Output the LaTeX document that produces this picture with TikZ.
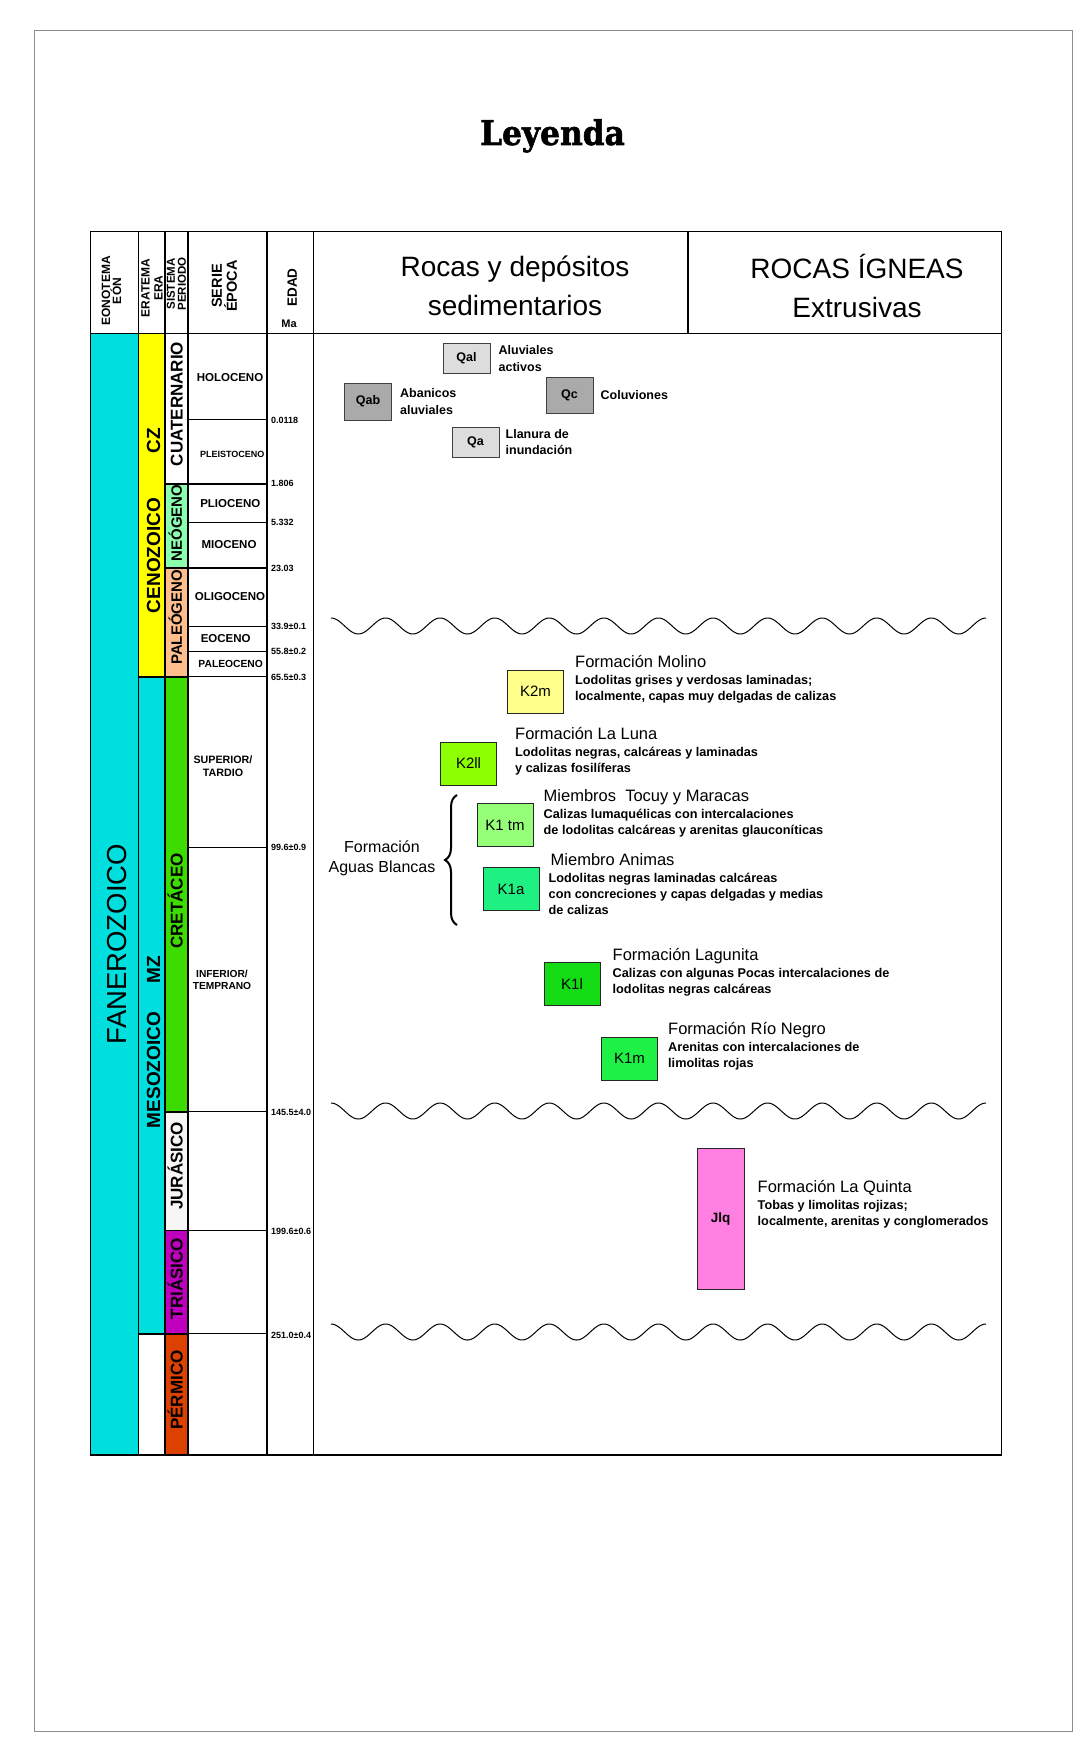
\documentclass[tikz,border=0pt]{standalone}
\usepackage{fontspec}
\setmainfont{Liberation Sans}
\newfontfamily\leyfont{DejaVu Serif}[FakeStretch=0.92, FakeBold=1.6]
\usetikzlibrary{positioning, decorations.pathreplacing}
\usepackage{xcolor}
\definecolor{cian}{RGB}{0,222,222}
\definecolor{amarillo}{RGB}{255,255,0}
\definecolor{neogeno}{RGB}{140,255,175}
\definecolor{paleogeno}{RGB}{255,190,140}
\definecolor{cretaceo}{RGB}{60,220,0}
\definecolor{jurasico}{RGB}{246,246,246}
\definecolor{triasico}{RGB}{190,0,190}
\definecolor{permico}{RGB}{220,65,0}
\definecolor{qclaro}{RGB}{221,221,221}
\definecolor{qoscuro}{RGB}{170,170,170}
\definecolor{colKdm}{RGB}{255,255,140}
\definecolor{colKdl}{RGB}{140,255,0}
\definecolor{colKtm}{RGB}{150,255,120}
\definecolor{colKa}{RGB}{30,240,130}
\definecolor{colKl}{RGB}{20,220,20}
\definecolor{colKm}{RGB}{30,240,70}
\definecolor{colJlq}{RGB}{255,128,224}

\begin{document}
\begin{tikzpicture}[
			x=1pt, y=-1pt,
			tbl/.style = {line width=1.6pt},
			fina/.style = {line width=1.1pt},
			onda/.style = {line width=1pt},
			hdrv/.style = {rotate=90, align=center, inner sep=0pt, font=\bfseries\fontsize{12}{11}\selectfont},
			hdr/.style = {align=center, inner sep=0pt, font=\fontsize{28}{39}\selectfont},
			eontxt/.style = {rotate=90, inner sep=0pt, font=\fontsize{27.5}{30}\selectfont},
			eratxt/.style = {rotate=90, inner sep=0pt, text height=13.7pt, text depth=0pt, font=\bfseries\fontsize{19}{22}\selectfont},
			pertxt/.style = {rotate=90, inner sep=0pt, text height=12.3pt, text depth=0pt, font=\bfseries\fontsize{17}{20}\selectfont},
			pertxtb/.style = {pertxt, text height=10.8pt, font=\bfseries\fontsize{15}{18}\selectfont},
			epoca/.style = {align=center, inner sep=0pt, font=\bfseries\fontsize{11.5}{13.5}\selectfont},
			edad/.style = {anchor=west, inner sep=0pt, font=\bfseries\fontsize{9}{10}\selectfont},
			qbox/.style = {draw=black!75, line width=0.9pt, minimum width=47pt, inner sep=0pt, font=\bfseries\fontsize{12.5}{14}\selectfont},
			qtxt/.style = {align=left, inner sep=0pt, font=\bfseries\fontsize{12.5}{16.5}\selectfont},
			unidad/.style = {draw=black!85, line width=1pt, minimum width=56pt, minimum height=43pt, inner sep=0pt, font=\fontsize{15}{18}\selectfont},
			fmtitle/.style = {anchor=west, inner sep=0pt, text height=12.4pt, text depth=3.6pt, font=\fontsize{16.5}{19}\selectfont},
			fmdesc/.style = {align=left, inner sep=0pt, font=\bfseries\fontsize{12.7}{16}\selectfont},
		]
			\useasboundingbox (0,0) rectangle (1082,1755);
			% marco y titulo
			\draw[black!45, line width=0.9pt] (34.7,30.2) rectangle (1072,1731);
			\node[anchor=base, inner sep=0pt, font=\leyfont\bfseries\fontsize{34}{38}\selectfont] (titulo) at (552.5,145) {Leyenda};

			% rellenos de la columna cronoestratigrafica
			\fill[cian] (90.5,333.3) rectangle (138.3,1455);
			\fill[amarillo] (138.3,333.3) rectangle (165,676.7);
			\fill[cian] (138.3,676.7) rectangle (165,1333.7);
			\fill[neogeno] (165,484) rectangle (187.7,568);
			\fill[paleogeno] (165,568) rectangle (187.7,676.7);
			\fill[cretaceo] (165,676.7) rectangle (187.7,1111.7);
			\fill[jurasico] (165,1111.7) rectangle (187.7,1230.3);
			\fill[triasico] (165,1230.3) rectangle (187.7,1333.7);
			\fill[permico] (165,1333.7) rectangle (187.7,1455);

			% lineas de la tabla
			\draw[tbl] (90.5,231.5) rectangle (1001.5,1455);
			\foreach \xx in {138.3,165,187.7,266.7,313.3}
				\draw[tbl] (\xx,231.5) -- (\xx,1455);
			\draw[tbl] (688,231.5) -- (688,333.3);
			\draw[tbl] (90.5,333.3) -- (1001.5,333.3);
			\draw[tbl] (138.3,676.7) -- (165,676.7) (138.3,1333.7) -- (165,1333.7);
			\foreach \yy in {484,568,676.7,1111.7,1230.3,1333.7}
				\draw[tbl] (165,\yy) -- (187.7,\yy);
			\foreach \yy in {419.3,484,522.3,568,626.7,651.7,676.7,847.3,1111.7,1230.3,1333.7}
				\draw[fina] (187.7,\yy) -- (266.7,\yy);

			% encabezados
			\node[hdrv] (eon) at (111.5,291) {EONOTEMA\\EÓN};
			\node[hdrv, font=\bfseries\fontsize{12}{13}\selectfont] (era) at (152,288) {ERATEMA\\ERA};
			\node[hdrv, font=\bfseries\fontsize{11.5}{11}\selectfont] (sist) at (176.5,284) {SISTEMA\\PERIODO};
			\node[hdrv, font=\bfseries\fontsize{14.5}{15}\selectfont] (serie) at (224.5,286) {SERIE\\ÉPOCA};
			\node[hdrv, font=\bfseries\fontsize{13.5}{15}\selectfont] (edadh) at (292.3,287.5) {EDAD};
			\node[inner sep=0pt, font=\bfseries\fontsize{11}{12}\selectfont] (ma) at (289,323.3) {Ma};
			\node[hdr] (sedim) at (515,285.5) {Rocas y depósitos\\sedimentarios};
			\node[hdr] (ignea) at (857,285.5) {ROCAS ÍGNEAS\\Extrusivas};

			% eon, eras y periodos
			\node[eontxt] (fanero) at (116.7,944) {FANEROZOICO};
			\node[eratxt] (ceno) at (153.3,555.5) {CENOZOICO};
			\node[eratxt] (cz) at (153.3,440.5) {CZ};
			\node[eratxt] (meso) at (153.3,1070) {MESOZOICO};
			\node[eratxt] (mz) at (153.3,970) {MZ};
			\node[pertxt] (cuat) at (176.4,404) {CUATERNARIO};
			\node[pertxtb] (neog) at (176.4,523) {NEÓGENO};
			\node[pertxtb] (paleog) at (176.4,617.5) {PALEÓGENO};
			\node[pertxt] (cret) at (176.4,901) {CRETÁCEO};
			\node[pertxt] (jur) at (176.4,1166) {JURÁSICO};
			\node[pertxt] (trias) at (176.4,1278.5) {TRIÁSICO};
			\node[pertxt] (perm) at (176.4,1390) {PÉRMICO};

			% epocas
			\node[epoca] (holo) at (230,377.3) {HOLOCENO};
			\node[epoca, font=\bfseries\fontsize{9}{11}\selectfont] (pleis) at (232.3,454) {PLEISTOCENO};
			\node[epoca] (plio) at (230.3,503.3) {PLIOCENO};
			\node[epoca] (mio) at (229,545) {MIOCENO};
			\node[epoca] (oligo) at (230,596.7) {OLIGOCENO};
			\node[epoca] (eoc) at (225.7,638.3) {EOCENO};
			\node[epoca, font=\bfseries\fontsize{10.3}{12}\selectfont] (paleoc) at (230.7,664.3) {PALEOCENO};
			\node[epoca, font=\bfseries\fontsize{10.7}{13.4}\selectfont] (sup) at (223,766) {SUPERIOR/\\TARDIO};
			\node[epoca, font=\bfseries\fontsize{10.2}{12}\selectfont] (inf) at (222,980) {INFERIOR/\\TEMPRANO};

			% edades (Ma)
			\foreach \yy/\ed [count=\i] in {420/0.0118, 483.5/1.806, 522.5/5.332, 568.3/23.03, 626.7/33.9±0.1, 651.7/55.8±0.2, 677.5/65.5±0.3, 847.5/99.6±0.9, 1112.5/145.5±4.0, 1231.5/199.6±0.6, 1335/251.0±0.4}
				\node[edad] (edad\i) at (271,\yy) {\ed};

			% depositos cuaternarios
			\node[qbox, fill=qclaro, minimum height=30pt] (qal) at (466.5,358.5) {Qal};
			\node[qtxt, right=8pt of qal] (qalT) {Aluviales\\activos};
			\node[qbox, fill=qoscuro, minimum height=37pt] (qab) at (368,401.5) {Qab};
			\node[qtxt, right=8pt of qab] (qabT) {Abanicos\\aluviales};
			\node[qbox, fill=qoscuro, minimum height=36pt] (qc) at (569.5,395) {Qc};
			\node[qtxt, right=7pt of qc] (qcT) {Coluviones};
			\node[qbox, fill=qclaro, minimum height=30pt] (qa) at (475.5,442) {Qa};
			\node[qtxt, right=6pt of qa] (qaT) {Llanura de\\inundación};

			% discordancias
			\draw[onda] plot[domain=331:986, samples=500] (\x,{626-8*cos(6.5958*(\x-331))});
			\draw[onda] plot[domain=331:986, samples=500] (\x,{1111-8*cos(6.5958*(\x-331))});
			\draw[onda] plot[domain=331:986, samples=500] (\x,{1332-8*cos(6.5958*(\x-331))});

			% unidades del Cretacico
			\node[unidad, fill=colKdm] (k2m) at (535.5,691.5) {K2m};
			\node[fmtitle, right=11pt of k2m.north east, yshift=6pt] (molT) {Formación Molino};
			\node[fmdesc, below right=3.5pt and 0pt of molT.south west] (molD) {Lodolitas grises y verdosas laminadas;\\localmente, capas muy delgadas de calizas};

			\node[unidad, fill=colKdl] (k2ll) at (468.5,763.5) {K2ll};
			\node[fmtitle, right=18pt of k2ll.north east, yshift=6pt] (lunaT) {Formación La Luna};
			\node[fmdesc, below right=3.5pt and 0pt of lunaT.south west] (lunaD) {Lodolitas negras, calcáreas y laminadas\\y calizas fosilíferas};

			\node[unidad, fill=colKtm] (k1tm) at (505,825) {K1 tm};
			\node[fmtitle, right=10pt of k1tm.north east, yshift=6pt] (tocT) {Miembros\ \ Tocuy y Maracas};
			\node[fmdesc, below right=3.5pt and 0pt of tocT.south west] (tocD) {Calizas lumaquélicas con intercalaciones\\de lodolitas calcáreas y arenitas glauconíticas};

			\node[unidad, fill=colKa] (k1a) at (511,889) {K1a};
			\node[fmtitle, right=11pt of k1a.north east, yshift=6pt] (animT) {Miembro Animas};
			\node[fmdesc, below right=3.5pt and -2pt of animT.south west] (animD) {Lodolitas negras laminadas calcáreas\\con concreciones y capas delgadas y medias\\de calizas};

			% Formacion Aguas Blancas
			\draw[line width=2pt, decorate, decoration={brace, amplitude=12pt}] (457,925) -- (457,795);
			\node[align=center, inner sep=0pt, font=\fontsize{16}{20}\selectfont] (aguas) at (382,858) {Formación\\Aguas Blancas};

			\node[unidad, fill=colKl] (k1l) at (572,984) {K1l};
			\node[fmtitle, right=12pt of k1l.north east, yshift=6pt] (lagT) {Formación Lagunita};
			\node[fmdesc, below right=3.5pt and 0pt of lagT.south west] (lagD) {Calizas con algunas Pocas intercalaciones de\\lodolitas negras calcáreas};

			\node[unidad, fill=colKm] (k1m) at (629.5,1058.5) {K1m};
			\node[fmtitle, right=10pt of k1m.north east, yshift=6pt] (rioT) {Formación Río Negro};
			\node[fmdesc, below right=3.5pt and 0pt of rioT.south west] (rioD) {Arenitas con intercalaciones de\\limolitas rojas};

			% Jurasico
			\node[unidad, fill=colJlq, minimum width=47pt, minimum height=141pt, font=\bfseries\fontsize{13.5}{15}\selectfont] (jlq) at (720.5,1218.5) {Jlq};
			\node[fmtitle, right=13pt of jlq.east, yshift=30pt] (quinT) {Formación La Quinta};
			\node[fmdesc, below right=3.5pt and 0pt of quinT.south west] (quinD) {Tobas y limolitas rojizas;\\localmente, arenitas y conglomerados};
		\end{tikzpicture}
\end{document}
